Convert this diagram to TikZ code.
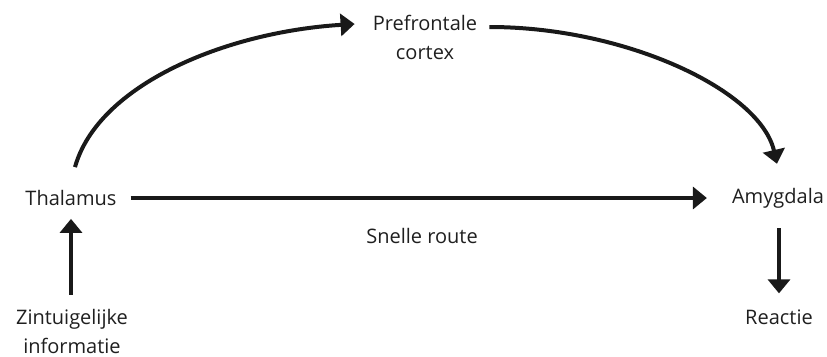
\documentclass[tikz,border=0pt]{standalone}
\usepackage{fontspec}
\setmainfont{Open Sans}
\usetikzlibrary{arrows.meta,calc}
\begin{document}
\begin{tikzpicture}[x=1pt,y=-1pt,
  lbl/.style={inner sep=0pt, align=center, text=black!88, font=\fontsize{20}{29}\selectfont},
  arr/.style={line width=4pt, draw=black!90, -{Triangle[width=22pt,length=14pt]}}]
  \useasboundingbox (0,0) rectangle (827,356);
  % labels
  \node[lbl] (thal) at (71,198) {Thalamus};
  \node[lbl] (amyg) at (778,198) {Amygdala};
  \node[lbl] (pfc)  at (425,37) {Prefrontale\\cortex};
  \node[lbl] (snel) at (422,236) {Snelle route};
  \node[lbl] (zint) at (72,331) {Zintuigelijke\\informatie};
  \node[lbl] (reac) at (779,317) {Reactie};
  % fast route
  \draw[arr, shorten <=14pt, shorten >=25pt] (thal.east) -- (amyg.west);
  % slow route via the prefrontal cortex
  \draw[arr] ($(thal.north)+(4,-23)$)
     .. controls (98,85) and (225,32) .. ($(pfc.west)+(-18,-13)$);
  \draw[arr] ($(pfc.east)+(12,-10)$)
     .. controls (625,27) and (760,90) .. ($(amyg.north)+(-1,-24)$);
  % input and output
  \draw[arr, shorten <=14pt, shorten >=13pt] (zint.north -| thal.south) -- (thal.south);
  \draw[arr] ($(amyg.south -| reac.north)+(0,20)$) -- ($(reac.north)+(0,-16)$);
\end{tikzpicture}
\end{document}
